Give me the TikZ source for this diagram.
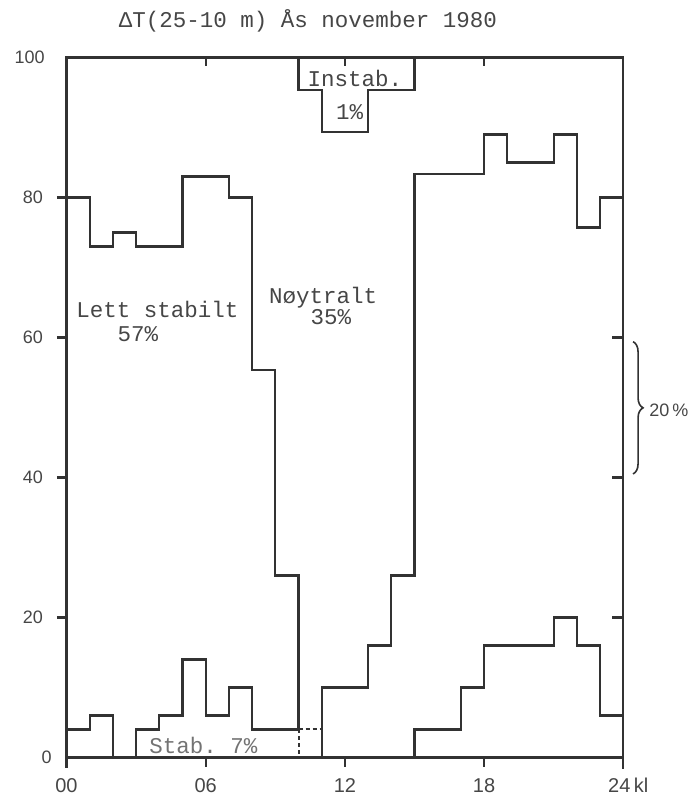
\documentclass[tikz,border=0pt]{standalone}
\usepackage{fontspec}
\setmainfont{Liberation Sans}
\setmonofont{Liberation Mono}
\usetikzlibrary{decorations.pathreplacing}
\definecolor{pen}{RGB}{50, 50, 50}
\definecolor{ink}{RGB}{70, 70, 70}
\definecolor{faint}{RGB}{115, 115, 115}

\tikzset{
    curve/.style = {line width = 2.2pt, pen},
    gap/.style = {line width = 2pt, pen, dash pattern = on 4pt off 3pt},
    typed/.style = {font = \ttfamily\fontsize{22.5}{24}\selectfont, text = ink, inner sep = 0pt, anchor = base},
    leftnum/.style = {font = \fontsize{18}{20}\selectfont, text = ink, inner sep = 0pt, anchor = east},
    hournum/.style = {font = \fontsize{20}{22}\selectfont, text = ink, inner sep = 0pt, anchor = base}
}

\begin{document}
\begin{tikzpicture}[x = 23.2pt, y = 7pt]
    \useasboundingbox (-2.866,-5.5) rectangle (27.047,108.21);

    % frame
    \draw[curve] (0,-1.5) -- (0,100) -- (24,100) -- (24,-1.6);
    \draw[curve] (0,0) -- (24,0);
    \draw[curve] (6,0) -- (6,-1.4) (12,0) -- (12,-1.4) (18,0) -- (18,-1.4)
                 (6,100) -- (6,98.8) (12,100) -- (12,98.8) (18,100) -- (18,98.8);
    \draw[curve] (-0.41,20) -- (0,20) (-0.41,40) -- (0,40) (-0.41,60) -- (0,60) (-0.41,80) -- (0,80);
    \draw[curve] (23.53,20) -- (24,20) (23.53,40) -- (24,40) (23.53,60) -- (24,60) (23.53,80) -- (24,80);

    % stable (bottom)
    \draw[curve] (0,4) -- (1,4) -- (1,6) -- (2,6) -- (2,0);
    \draw[curve] (3,0) -- (3,4) -- (4,4) -- (4,6) -- (5,6) -- (5,14) -- (6,14) -- (6,6)
                 -- (7,6) -- (7,10) -- (8,10) -- (8,4) -- (10,4);
    \draw[curve] (15,0) -- (15,4) -- (17,4) -- (17,10) -- (18,10) -- (18,16) -- (21,16)
                 -- (21,20) -- (22,20) -- (22,16) -- (23,16) -- (23,6) -- (24,6);

    % lett stabilt / noytralt
    \draw[curve] (0,80) -- (1,80) -- (1,73) -- (2,73) -- (2,75) -- (3,75) -- (3,73) -- (5,73)
                 -- (5,83) -- (7,83) -- (7,80) -- (8,80) -- (8,55.4) -- (9,55.4) -- (9,26)
                 -- (10,26) -- (10,4.2);
    \draw[gap] (10,4) -- (10,0) (10,4) -- (11,4);
    \draw[curve] (11,0) -- (11,10) -- (13,10) -- (13,16) -- (14,16) -- (14,26) -- (15,26)
                 -- (15,83.4) -- (18,83.4) -- (18,89) -- (19,89) -- (19,85) -- (21,85)
                 -- (21,89) -- (22,89) -- (22,75.7) -- (23,75.7) -- (23,80) -- (24,80);

    % instabil (top)
    \draw[curve] (10,100) -- (10,95.3) -- (11,95.3) -- (11,89.3) -- (13,89.3) -- (13,95.3)
                 -- (15,95.3) -- (15,100);

    % texts
    \node[typed] (title) at (10.41,104.35) {ΔT(25-10 m) Ås november 1980};
    \node[typed] (instab) at (12.43,95.9) {Instab.};
    \node[typed] (instabpct) at (12.2,91.07) {1\%};
    \node[typed] (lett) at (3.92,62.79) {Lett stabilt};
    \node[typed] (lettpct) at (3.08,59.36) {57\%};
    \node[typed] (noyt) at (11.06,64.8) {Nøytralt};
    \node[typed] (noytpct) at (11.4,61.8) {35\%};
    \node[typed, text = faint] (stab) at (5.9,0.55) {Stab. 7\%};

    \node[leftnum] (y100) at (-0.93,100) {100};
    \node[leftnum] (y80) at (-1.01,80) {80};
    \node[leftnum] (y60) at (-1.01,60) {60};
    \node[leftnum] (y40) at (-1.01,40) {40};
    \node[leftnum] (y20) at (-1.01,20) {20};
    \node[leftnum] (y0) at (-0.63,0) {0};

    \node[hournum] (h00) at (0,-4.93) {00};
    \node[hournum] (h06) at (6,-4.93) {06};
    \node[hournum] (h12) at (12,-4.93) {12};
    \node[hournum] (h18) at (18,-4.93) {18};
    \node[hournum, anchor = base west] (h24) at (23.34,-4.93) {24\,kl};

    % scale brace
    \coordinate (bracetop) at (24.42,59.4);
    \coordinate (bracebot) at (24.42,40.5);
    \draw[pen, line width = 1.6pt, decorate, decoration = {brace, amplitude = 10pt}] (bracetop) -- (bracebot);
    \node[leftnum, anchor = west] (scale) at (25.11,49.6) {20\,\%};
\end{tikzpicture}
\end{document}
